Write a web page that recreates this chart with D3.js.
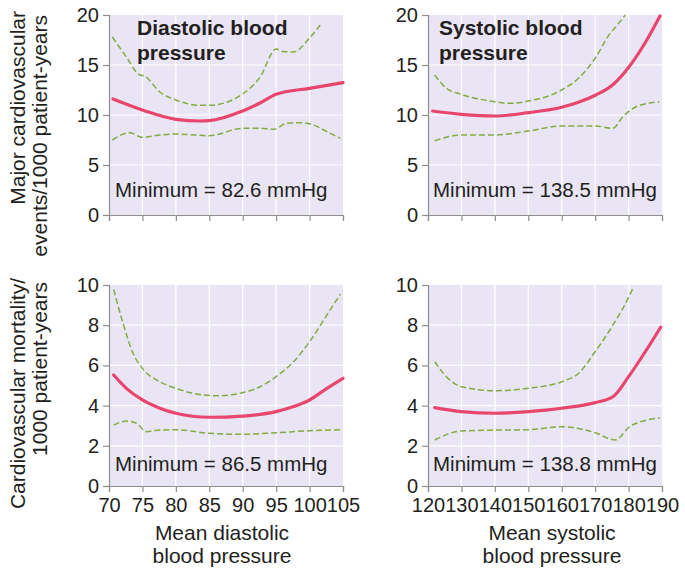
<!DOCTYPE html>
<html>
<head>
<meta charset="utf-8">
<script src="https://cdn.jsdelivr.net/npm/d3@7"></script>
<style>
  body { margin: 0; background: #fff; }
  svg text { font-family: "Liberation Sans", Arial, Helvetica, sans-serif; fill: #231f20; }
</style>
</head>
<body>
<svg id="chart" width="685" height="570"></svg>
<script>
// Tick values
const diastolicTicks = [70, 75, 80, 85, 90, 95, 100, 105];
const systolicTicks = [120, 130, 140, 150, 160, 170, 180, 190];
const eventTicks = [0, 5, 10, 15, 20];
const mortalityTicks = [0, 2, 4, 6, 8, 10];

// Major cardiovascular events vs mean diastolic BP: estimate and 95% band
const eventsDiaEst = [[70.6,11.6],[75,10.5],[80,9.57],[83.6,9.4],[85,9.43],[90,10.4],[92.6,11.2],[95,12.07],[100,12.67],[105,13.23]];
const eventsDiaHi = [[70.5,17.8],[72.6,15.8],[74.6,14.0],[75.3,13.9],[77.6,12.3],[80,11.5],[83.6,10.97],[85,10.97],[90,12.1],[92.6,13.8],[95,16.6],[96,16.35],[97.6,16.3],[100,17.7],[101.6,19.0]];
const eventsDiaLo = [[70.5,7.5],[73.1,8.23],[75,7.77],[77.6,8.0],[80,8.1],[85,7.93],[90,8.67],[92.6,8.67],[94.6,8.57],[96.6,9.17],[98.6,9.23],[100.6,9.0],[102.6,8.33],[104.6,7.67]];

// Major cardiovascular events vs mean systolic BP
const eventsSysEst = [[121.4,10.4],[130,10.07],[140,9.9],[150,10.23],[160,10.77],[165,11.27],[170.2,12.0],[175.2,13.0],[180.1,14.8],[185.1,17.3],[189.4,19.9]];
const eventsSysHi = [[122,14.0],[125.5,12.67],[130,12.07],[140,11.33],[145,11.17],[150,11.4],[160,12.5],[165,13.67],[170,15.67],[174.5,18.17],[175.8,18.67],[179,20]];
const eventsSysLo = [[122,7.43],[130,8.0],[140,8.0],[150,8.4],[160,8.9],[170,8.9],[175.3,8.67],[178.3,9.83],[182.3,10.83],[189.2,11.33]];

// Cardiovascular mortality vs mean diastolic BP
const mortDiaEst = [[70.7,5.52],[72.6,4.86],[75,4.28],[77.6,3.87],[80,3.62],[85,3.42],[90,3.48],[95,3.7],[97.6,3.95],[100,4.28],[102.6,4.86],[105,5.36]];
const mortDiaHi = [[70.7,9.78],[72.1,8.09],[73.6,6.6],[75,5.85],[77.6,5.19],[80,4.86],[82.6,4.61],[86.1,4.49],[90,4.64],[92.6,4.94],[95,5.44],[97.6,6.18],[100,7.18],[102.6,8.51],[104.6,9.55]];
const mortDiaLo = [[70.7,3.03],[72.6,3.23],[74.1,3.12],[75.6,2.7],[77.6,2.78],[80,2.8],[85,2.62],[90,2.57],[95,2.65],[100,2.75],[104.8,2.8]];

// Cardiovascular mortality vs mean systolic BP
const mortSysEst = [[122,3.9],[130,3.7],[140,3.62],[150,3.7],[160,3.87],[170,4.15],[175.3,4.44],[180,5.44],[185,6.68],[189.6,7.9]];
const mortSysHi = [[122,6.18],[125.5,5.44],[130,4.94],[140,4.74],[150,4.86],[160,5.19],[165,5.6],[170,6.68],[175.3,8.0],[178.3,8.84],[181.3,9.83]];
const mortSysLo = [[122,2.29],[130,2.74],[140,2.78],[150,2.8],[160,2.95],[170,2.65],[176,2.29],[180.3,2.95],[185.3,3.28],[189.3,3.38]];

// Panel texts
const minimumLabels = ["Minimum = 82.6 mmHg", "Minimum = 138.5 mmHg", "Minimum = 86.5 mmHg", "Minimum = 138.8 mmHg"];
const panelTitles = [["Diastolic blood", "pressure"], ["Systolic blood", "pressure"]];
const yTitles = [["Major cardiovascular", "events/1000 patient-years"], ["Cardiovascular mortality/", "1000 patient-years"]];
const xTitles = [["Mean diastolic", "blood pressure"], ["Mean systolic", "blood pressure"]];

const svg = d3.select("#chart");
const COL = { bg: "#eae5f5", axis: "#8e8e8e", est: "#e8466c", ci: "#82ab40" };

const cols = [{ x0: 109, x1: 343 }, { x0: 428, x1: 662 }];
const rows = [{ y0: 215, y1: 15 }, { y0: 486, y1: 285 }];

const panels = [
  { c: 0, r: 0, dom: [70, 105], xt: diastolicTicks, yd: [0, 20], yt: eventTicks, lines: [eventsDiaHi, eventsDiaLo, eventsDiaEst], label: minimumLabels[0], title: panelTitles[0], xl: false },
  { c: 1, r: 0, dom: [120, 190], xt: systolicTicks, yd: [0, 20], yt: eventTicks, lines: [eventsSysHi, eventsSysLo, eventsSysEst], label: minimumLabels[1], title: panelTitles[1], xl: false },
  { c: 0, r: 1, dom: [70, 105], xt: diastolicTicks, yd: [0, 10], yt: mortalityTicks, lines: [mortDiaHi, mortDiaLo, mortDiaEst], label: minimumLabels[2], title: null, xl: true },
  { c: 1, r: 1, dom: [120, 190], xt: systolicTicks, yd: [0, 10], yt: mortalityTicks, lines: [mortSysHi, mortSysLo, mortSysEst], label: minimumLabels[3], title: null, xl: true }
];

panels.forEach((p, i) => {
  const cx = cols[p.c], ry = rows[p.r];
  const x = d3.scaleLinear().domain(p.dom).range([cx.x0, cx.x1]);
  const y = d3.scaleLinear().domain(p.yd).range([ry.y0, ry.y1]);
  const g = svg.append("g");

  // shaded plotting area
  g.append("rect")
    .attr("x", cx.x0).attr("y", ry.y1)
    .attr("width", cx.x1 - cx.x0).attr("height", ry.y0 - ry.y1)
    .attr("fill", COL.bg);

  // white grid
  g.append("g").selectAll("line").data(p.xt.slice(1, -1)).join("line")
    .attr("x1", d => x(d)).attr("x2", d => x(d))
    .attr("y1", ry.y0).attr("y2", ry.y1)
    .attr("stroke", "#fff").attr("stroke-width", 1.2);
  g.append("g").selectAll("line").data(p.yt.slice(1, -1)).join("line")
    .attr("x1", cx.x0).attr("x2", cx.x1)
    .attr("y1", d => y(d)).attr("y2", d => y(d))
    .attr("stroke", "#fff").attr("stroke-width", 1.2);

  // curves
  const clipId = "clip" + i;
  svg.append("clipPath").attr("id", clipId).append("rect")
    .attr("x", cx.x0).attr("y", ry.y1 - 2)
    .attr("width", cx.x1 - cx.x0 + 2).attr("height", ry.y0 - ry.y1 + 2);
  const line = d3.line().x(d => x(d[0])).y(d => y(d[1])).curve(d3.curveMonotoneX);
  const lg = g.append("g").attr("clip-path", `url(#${clipId})`);
  p.lines.forEach((pts, k) => {
    const est = k === 2;
    lg.append("path").datum(pts)
      .attr("d", line)
      .attr("fill", "none")
      .attr("stroke", est ? COL.est : COL.ci)
      .attr("stroke-width", est ? 3.2 : 1.5)
      .attr("stroke-dasharray", est ? null : "6,3")
      .attr("stroke-linecap", est ? "round" : "butt");
  });

  // axes
  const ya = g.append("g").attr("transform", `translate(${cx.x0},0)`)
    .call(d3.axisLeft(y).tickValues(p.yt).tickSize(6).tickSizeOuter(6).tickPadding(4));
  const xa = g.append("g").attr("transform", `translate(0,${ry.y0})`)
    .call(d3.axisBottom(x).tickValues(p.xt).tickSize(6).tickSizeOuter(6).tickPadding(6)
      .tickFormat(p.xl ? d3.format("d") : () => ""));
  [ya, xa].forEach(a => {
    a.selectAll("path, line").attr("stroke", COL.axis).attr("stroke-width", 1.2);
    a.selectAll("text").attr("font-size", 20).style("fill", "#231f20")
      .attr("font-family", '"Liberation Sans", Arial, sans-serif');
  });

  // minimum annotation
  g.append("text")
    .attr("x", cx.x0 + (p.c === 0 ? 6 : 5)).attr("y", ry.y0 - (p.r === 0 ? 18 : 15))
    .attr("font-size", 20.5)
    .text(p.label);

  // panel title
  if (p.title) {
    p.title.forEach((t, k) => {
      g.append("text")
        .attr("x", cx.x0 + (p.c === 0 ? 28 : 11)).attr("y", 35 + k * 25)
        .attr("font-size", 21).attr("font-weight", "bold")
        .text(t);
    });
  }
});

// y-axis titles (read bottom to top, lines aligned at their top end)
yTitles.forEach((lines, r) => {
  const top = r === 0 ? 11 : 278;
  lines.forEach((t, k) => {
    svg.append("text")
      .attr("transform", `translate(${25 + k * 22},${top + k * 4}) rotate(-90)`)
      .attr("text-anchor", "end")
      .attr("font-size", 21)
      .text(t);
  });
});

// x-axis titles
xTitles.forEach((lines, c) => {
  const cx = c === 0 ? 222 : 552;
  lines.forEach((t, k) => {
    svg.append("text")
      .attr("x", cx).attr("y", 540 + k * 23)
      .attr("text-anchor", "middle")
      .attr("font-size", 21)
      .text(t);
  });
});
</script>
</body>
</html>
